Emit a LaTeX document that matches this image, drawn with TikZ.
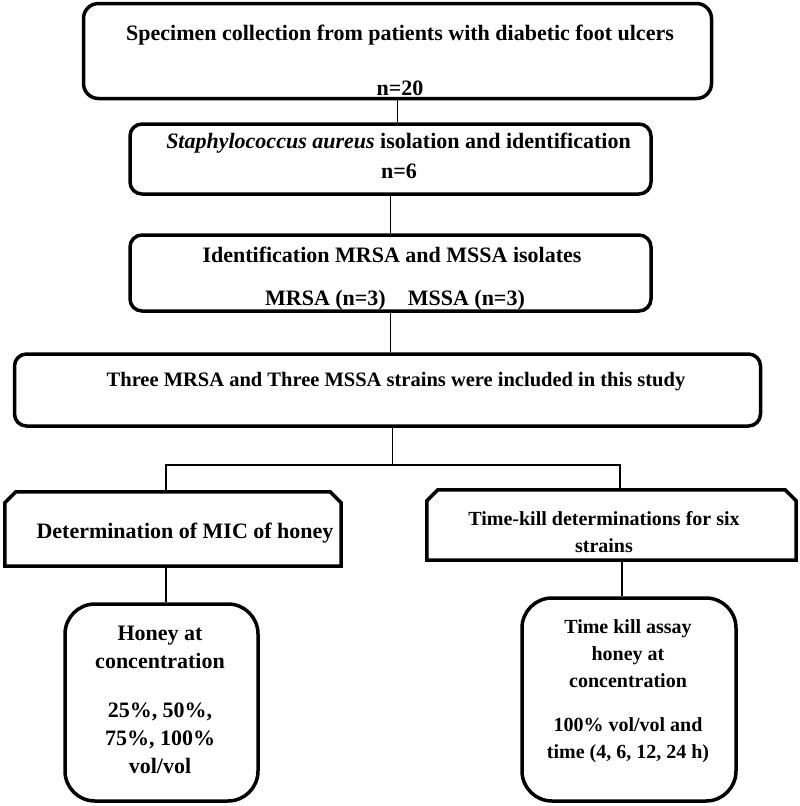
\documentclass[tikz,border=0pt]{standalone}
\usepackage{fontspec}
\setmainfont{Liberation Serif}
\begin{document}
\begin{tikzpicture}[x=1pt,y=-1pt,
  box/.style={draw, line width=3.5pt, rounded corners=15pt, inner sep=0pt},
  area/.style={inner sep=0pt},
  border/.style={line width=3.5pt, line join=miter},
  conn/.style={line width=1.5pt},
  txt/.style={anchor=base, inner sep=0pt, align=center, font=\bfseries\fontsize{22}{28}\selectfont},
  stxt/.style={anchor=base, inner sep=0pt, align=center, font=\bfseries\fontsize{20}{27}\selectfont}]
\useasboundingbox (0,0) rectangle (800,806);

% boxes
\node[box, minimum width=628pt, minimum height=95pt] (b1) at (397.5,51) {};
\node[box, rounded corners=12pt, minimum width=521pt, minimum height=70pt] (b2) at (390.5,159) {};
\node[box, rounded corners=12pt, minimum width=521pt, minimum height=76pt] (b3) at (390.5,273) {};
\node[box, rounded corners=12pt, minimum width=746pt, minimum height=72pt] (b4) at (387.5,390) {};
\node[area, minimum width=336pt, minimum height=74pt] (b5) at (173,529) {};
\node[area, minimum width=369pt, minimum height=70pt] (b6) at (611.5,525) {};
\node[box, rounded corners=30pt, minimum width=193pt, minimum height=197pt] (b7) at (161.5,702.5) {};
\node[box, rounded corners=30pt, minimum width=214pt, minimum height=203pt] (b8) at (629,699.5) {};

% chamfered outlines (top corners cut)
\foreach \b in {b5,b6}{
  \draw[border] (\b.south west) -- ([yshift=-11pt]\b.north west) -- ([xshift=11pt]\b.north west)
    -- ([xshift=-11pt]\b.north east) -- ([yshift=-11pt]\b.north east) -- (\b.south east) -- cycle;
}

% texts
\node[txt] (t1a) at (400,40) {Specimen collection from patients with diabetic foot ulcers};
\node[txt] (t1b) at (400,95) {n=20};
\node[txt] (t2a) at (398.5,148) {\textit{Staphylococcus aureus} isolation and identification};
\node[txt] (t2b) at (399,178) {n=6};
\node[txt] (t3a) at (392,262) {Identification MRSA and MSSA isolates};
\node[txt] (t3b) at (395,305) {MRSA (n=3)\hspace{22pt}MSSA (n=3)};
\node[stxt, font=\bfseries\fontsize{20.5}{27}\selectfont] (t4) at (396,386) {Three MRSA and Three MSSA strains were included in this study};
\node[txt] (t5) at (185,538) {Determination of MIC of honey};
\node[stxt] (t6) at (604,552) {Time-kill determinations for six\\strains};
\node[txt] (t7a) at (160,668) {Honey at\\concentration};
\node[txt] (t7b) at (160,773) {25\%, 50\%,\\75\%, 100\%\\vol/vol};
\node[stxt] (t8a) at (628,687) {Time kill assay\\honey at\\concentration};
\node[stxt] (t8b) at (628,758) {100\% vol/vol and\\time (4, 6, 12, 24 h)};

% connectors
\coordinate (jl) at (166,465);
\coordinate (jr) at (620,465);
\draw[conn] (b1.south) -- (b1.south |- b2.north);
\draw[conn] (b2.south) -- (b2.south |- b3.north);
\draw[conn] (b3.south) -- (b3.south |- b4.north);
\draw[conn] ([xshift=5pt]b4.south) -- ([xshift=5pt]b4.south |- jl);
\draw[conn] (jl |- b5.north) -- (jl) -- (jr) -- (jr |- b6.north);
\draw[conn] (jl |- b5.south) -- (jl |- b7.north);
\draw[conn] ([xshift=-7pt]b8.north) -- ([xshift=-7pt]b8.north |- b6.south);
\end{tikzpicture}
\end{document}
